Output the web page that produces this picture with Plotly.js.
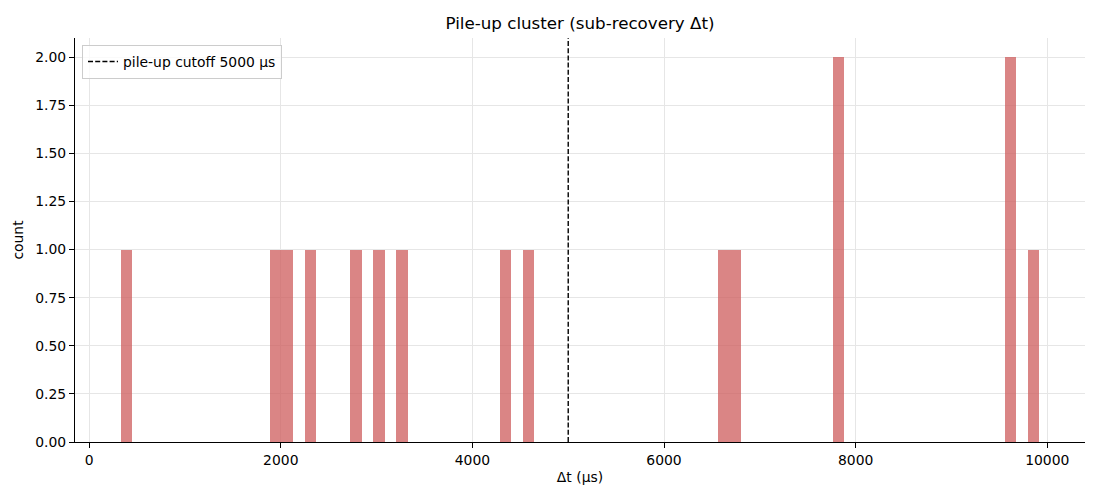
<!DOCTYPE html>
<html>
<head>
<meta charset="utf-8">
<script src="https://cdn.plot.ly/plotly-3.0.1.min.js"></script>
<style>html,body{margin:0;padding:0;background:#fff;}#chart{width:1100px;height:500px;}</style>
</head>
<body>
<div id="chart"></div>
<script>
// Sub-recovery inter-event intervals (µs)
const deltaT = [340, 1940, 2070, 2310, 2790, 3030, 3270, 4350, 4590, 6620, 6740, 7800, 7830, 9600, 9640, 9900];
const binStart = 331;
const binEnd = 9915;
const binCount = 80;
const cutoff = 5000;
const cutoffLabel = 'pile-up cutoff 5000 µs';
const xTicks = [0, 2000, 4000, 6000, 8000, 10000];
const yTicks = [0, 0.25, 0.5, 0.75, 1.0, 1.25, 1.5, 1.75, 2.0];

const font = 'DejaVu Sans, sans-serif';

const hist = {
  type: 'histogram',
  x: deltaT,
  xbins: {start: binStart, end: binEnd + 1e-6, size: (binEnd - binStart) / binCount},
  marker: {color: 'rgba(205,92,92,0.75)', line: {width: 0}},
  showlegend: false,
  hoverinfo: 'x+y'
};

const cutLine = {
  type: 'scatter',
  mode: 'lines',
  x: [cutoff, cutoff],
  y: [0, 2.1],
  line: {color: 'black', width: 1.4, dash: '5px,2.2px'},
  name: cutoffLabel,
  showlegend: true
};

const layout = {
  width: 1100,
  height: 500,
  margin: {l: 75, r: 15, t: 38, b: 58},
  paper_bgcolor: 'white',
  plot_bgcolor: 'white',
  font: {family: font, size: 13.9, color: 'black'},
  bargap: 0,
  title: {
    text: 'Pile-up cluster (sub-recovery Δt)',
    font: {family: font, size: 16.7, color: 'black'},
    x: 0.5 * (75 + 1085) / 1100, xref: 'container', xanchor: 'center',
    y: 1 - 29 / 500, yref: 'container', yanchor: 'bottom'
  },
  xaxis: {
    range: [-148, 10394],
    tickvals: xTicks,
    ticktext: xTicks.map(String),
    ticks: 'outside', ticklen: 5, tickwidth: 1, tickcolor: 'black',
    showline: true, linecolor: 'black', linewidth: 1, mirror: false,
    showgrid: true, gridcolor: '#e6e6e6', gridwidth: 1,
    zeroline: false,
    title: {text: 'Δt (µs)', font: {family: font, size: 13.9, color: 'black'}, standoff: 5}
  },
  yaxis: {
    range: [0, 2.1],
    tickvals: yTicks,
    ticktext: yTicks.map(v => v.toFixed(2)),
    ticks: 'outside', ticklen: 5, tickwidth: 1, tickcolor: 'black',
    showline: true, linecolor: 'black', linewidth: 1, mirror: false,
    showgrid: true, gridcolor: '#e6e6e6', gridwidth: 1,
    zeroline: false,
    title: {text: 'count', font: {family: font, size: 13.9, color: 'black'}, standoff: 8}
  },
  legend: {
    x: 7 / 1010, y: 1 - 7 / 404, xanchor: 'left', yanchor: 'top',
    bgcolor: 'rgba(255,255,255,0.8)', bordercolor: '#cccccc', borderwidth: 1,
    font: {family: font, size: 13.9, color: 'black'},
    itemwidth: 30
  }
};

Plotly.newPlot('chart', [hist, cutLine], layout, {displayModeBar: false, staticPlot: true});
</script>
</body>
</html>
